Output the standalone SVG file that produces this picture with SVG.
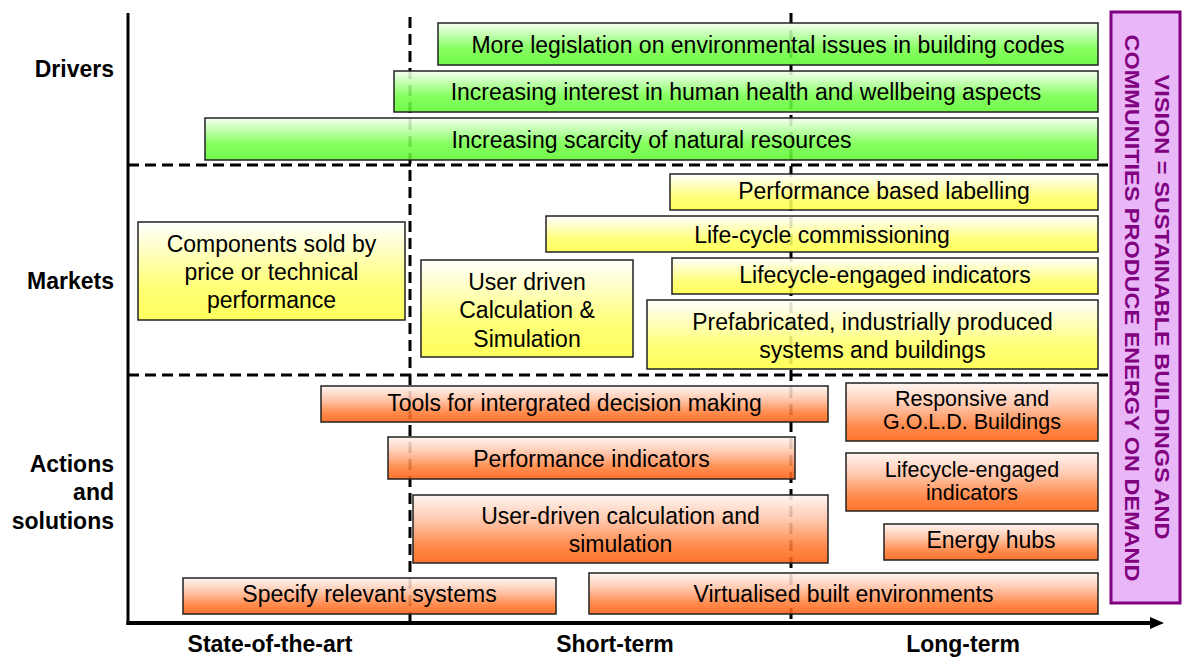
<svg xmlns="http://www.w3.org/2000/svg" width="1182" height="657" viewBox="0 0 1182 657">
<defs>
<linearGradient id="gGreen" x1="0" y1="0" x2="0" y2="1">
<stop offset="0" stop-color="#f5fff2"/><stop offset="0.6" stop-color="#77ff4d"/><stop offset="1" stop-color="#5ef52e"/>
</linearGradient>
<linearGradient id="gYellow" x1="0" y1="0" x2="0" y2="1">
<stop offset="0" stop-color="#ffffff"/><stop offset="0.65" stop-color="#ffff66"/><stop offset="1" stop-color="#ffff44"/>
</linearGradient>
<linearGradient id="gOrange" x1="0" y1="0" x2="0" y2="1">
<stop offset="0" stop-color="#fff4f0"/><stop offset="0.35" stop-color="#ffc4a8"/><stop offset="0.75" stop-color="#ff7a33"/><stop offset="1" stop-color="#ff6010"/>
</linearGradient>
<marker id="arrow" markerWidth="14" markerHeight="12" refX="2" refY="6" orient="auto" markerUnits="userSpaceOnUse">
<polygon points="0,0 14,6 0,12" fill="#000"/>
</marker>
</defs>
<style>
.box{stroke:#222;stroke-width:1.5;fill-opacity:0.88}
.green{fill:url(#gGreen)}
.yellow{fill:url(#gYellow)}
.orange{fill:url(#gOrange)}
.t{font-family:"Liberation Sans",Arial,sans-serif;font-size:23px;fill:#000;text-anchor:middle}
.ts{font-family:"Liberation Sans",Arial,sans-serif;font-size:21.5px;fill:#000;text-anchor:middle}
.row{font-family:"Liberation Sans",Arial,sans-serif;font-size:23px;font-weight:bold;fill:#000;text-anchor:end}
.ax{font-family:"Liberation Sans",Arial,sans-serif;font-size:23px;font-weight:bold;fill:#000;text-anchor:middle}
.dash{stroke:#000;stroke-width:3;stroke-dasharray:11 6;fill:none}
.vision{font-family:"Liberation Sans",Arial,sans-serif;font-size:20px;font-weight:bold;fill:#800080;text-anchor:middle}
</style>

<g id="grid">
<line class="dash" x1="128" y1="165" x2="1110" y2="165"/>
<line class="dash" x1="128" y1="375" x2="1110" y2="375"/>
<line class="dash" x1="410" y1="17" x2="410" y2="627"/>
<line class="dash" x1="791" y1="13" x2="791" y2="623"/>
</g>

<g id="axes">
<line x1="128" y1="13" x2="128" y2="625" stroke="#000" stroke-width="3"/>
<line x1="126.5" y1="623" x2="1152" y2="623" stroke="#000" stroke-width="4" marker-end="url(#arrow)"/>
</g>

<g id="row-labels">
<text class="row" x="114" y="77">Drivers</text>
<text class="row" x="114" y="289">Markets</text>
<text class="row" x="114" y="472">Actions</text>
<text class="row" x="114" y="500">and</text>
<text class="row" x="114" y="529">solutions</text>
</g>

<g id="axis-labels">
<text class="ax" x="270" y="652">State-of-the-art</text>
<text class="ax" x="615" y="652">Short-term</text>
<text class="ax" x="963" y="652">Long-term</text>
</g>

<g id="d1"><rect class="box green" x="438" y="23" width="660" height="42"/><text class="t" x="768" y="53">More legislation on environmental issues in building codes</text></g>
<g id="d2"><rect class="box green" x="394" y="71" width="704" height="41"/><text class="t" x="746" y="100">Increasing interest in human health and wellbeing aspects</text></g>
<g id="d3"><rect class="box green" x="205" y="118" width="893" height="42"/><text class="t" x="651.5" y="148">Increasing scarcity of natural resources</text></g>

<g id="m1"><rect class="box yellow" x="670" y="174" width="428" height="36"/><text class="t" x="884" y="199">Performance based labelling</text></g>
<g id="m2"><rect class="box yellow" x="546" y="216" width="552" height="36"/><text class="t" x="822" y="243">Life-cycle commissioning</text></g>
<g id="m3"><rect class="box yellow" x="672" y="258" width="426" height="36"/><text class="t" x="885" y="283">Lifecycle-engaged indicators</text></g>
<g id="m4"><rect class="box yellow" x="647" y="300" width="451" height="69"/><text class="t" x="872.5" y="330">Prefabricated, industrially produced</text><text class="t" x="872.5" y="358">systems and buildings</text></g>
<g id="m5"><rect class="box yellow" x="421" y="260" width="212" height="97"/><text class="t" x="527" y="290">User driven</text><text class="t" x="527" y="318">Calculation &amp;</text><text class="t" x="527" y="347">Simulation</text></g>
<g id="m6"><rect class="box yellow" x="138" y="222" width="267" height="98"/><text class="t" x="271.5" y="252">Components sold by</text><text class="t" x="271.5" y="280">price or technical</text><text class="t" x="271.5" y="308">performance</text></g>

<g id="a1"><rect class="box orange" x="321" y="386" width="507" height="36"/><text class="t" x="574.5" y="411">Tools for intergrated decision making</text></g>
<g id="a2"><rect class="box orange" x="388" y="437" width="407" height="42"/><text class="t" x="591.5" y="467">Performance indicators</text></g>
<g id="a3"><rect class="box orange" x="413" y="495" width="415" height="68"/><text class="t" x="620.5" y="524">User-driven calculation and</text><text class="t" x="620.5" y="552">simulation</text></g>
<g id="a4"><rect class="box orange" x="183" y="578" width="373" height="36"/><text class="t" x="369.5" y="602">Specify relevant systems</text></g>
<g id="a5"><rect class="box orange" x="589" y="573" width="509" height="41"/><text class="t" x="843.5" y="602">Virtualised built environments</text></g>
<g id="a6"><rect class="box orange" x="846" y="383" width="252" height="58"/><text class="ts" x="972" y="406">Responsive and</text><text class="ts" x="972" y="429">G.O.L.D. Buildings</text></g>
<g id="a7"><rect class="box orange" x="846" y="453" width="252" height="58"/><text class="ts" x="972" y="477">Lifecycle-engaged</text><text class="ts" x="972" y="500">indicators</text></g>
<g id="a8"><rect class="box orange" x="884" y="524" width="214" height="36"/><text class="t" x="991" y="548">Energy hubs</text></g>

<g id="vision">
<rect x="1111" y="12" width="69" height="591" fill="#e9b7f7" stroke="#800080" stroke-width="3"/>
<text class="vision" transform="translate(1155,307) rotate(90)" x="0" y="0" textLength="465" lengthAdjust="spacingAndGlyphs">VISION = SUSTAINABLE BUILDINGS AND</text>
<text class="vision" transform="translate(1125,308) rotate(90)" x="0" y="0" textLength="547" lengthAdjust="spacingAndGlyphs">COMMUNITIES PRODUCE ENERGY ON DEMAND</text>
</g>
</svg>
